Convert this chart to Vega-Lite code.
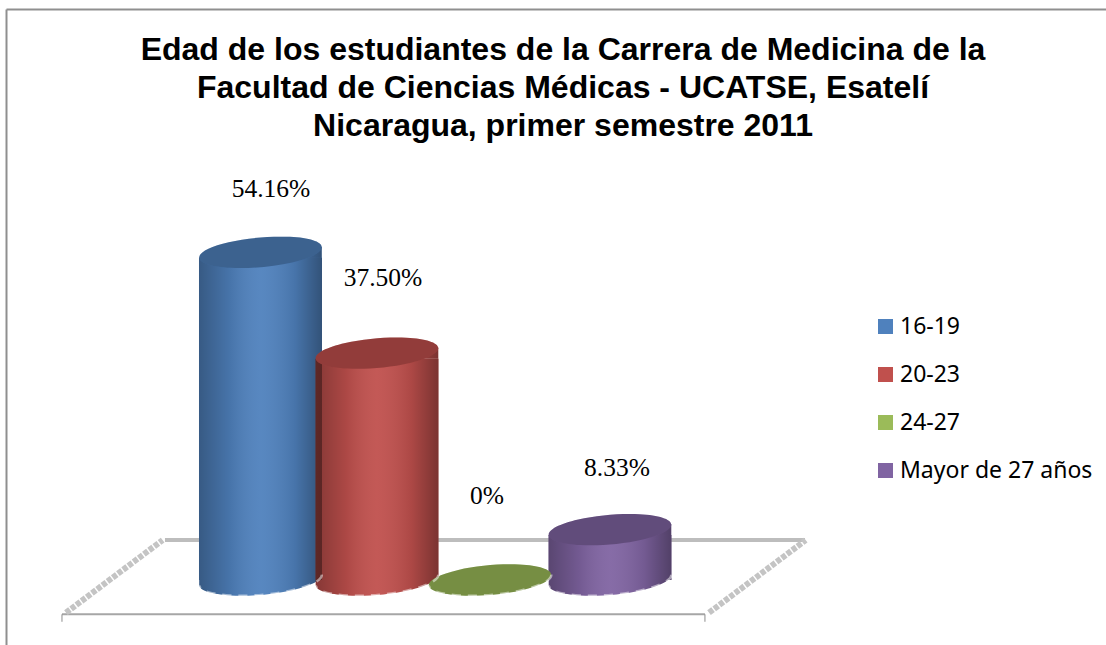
{
"$schema":"https://vega.github.io/schema/vega-lite/v6.json",
"width":1100,"height":636,
"autosize":{"type":"none"},
"padding":{"left":6,"top":9,"right":0,"bottom":0},
"background":"white",
"view":{"stroke":null},
"title":{"text":["Edad de los estudiantes de la Carrera de Medicina de la","Facultad de Ciencias Médicas - UCATSE, Esatelí","Nicaragua, primer semestre 2011"],"font":"Liberation Sans","fontSize":32,"fontWeight":"bold","color":"black","lineHeight":38,"anchor":"start","align":"center","baseline":"top","frame":"group","offset":0,"dx":557,"dy":134},
"datasets":{
"ages":[
{"age":"16-19","pos":1,"pct":54.16,"label":"54.16%"},
{"age":"20-23","pos":2,"pct":37.5,"label":"37.50%"},
{"age":"24-27","pos":2.97,"pct":0,"label":"0%"},
{"age":"Mayor de 27 años","pos":4,"pct":8.33,"label":"8.33%"}],
"floor":[
{"edge":"back","pos":0.18,"pct":6.6,"pos2":5.674,"pct2":6.6},
{"edge":"front","pos":-0.704,"pct":-5.67,"pos2":4.815,"pct2":-5.67},
{"edge":"tick","pos":-0.704,"pct":-5.67,"pos2":-0.704,"pct2":-6.9},
{"edge":"tick","pos":4.815,"pct":-5.67,"pos2":4.815,"pct2":-6.9},
{"edge":"side","pos":-0.67,"pct":-5.4,"pos2":0.16,"pct2":6.6},
{"edge":"side","pos":4.85,"pct":-5.4,"pos2":5.68,"pct2":6.6}]
},
"encoding":{
"x":{"field":"pos","type":"quantitative","scale":{"domain":[-1.1845,8.2575],"nice":false,"zero":false,"padding":0},"axis":{"orient":"top","title":null,"labels":false,"ticks":false,"grid":false,"domain":true,"domainColor":"#8f8f8f","domainWidth":2}},
"y":{"field":"pct","type":"quantitative","stack":null,"scale":{"domain":[-10.74,94.38],"nice":false,"zero":false,"padding":0},"axis":{"orient":"left","title":null,"labels":false,"ticks":false,"grid":false,"domain":true,"domainColor":"#8f8f8f","domainWidth":2}}
},
"layer":[
{"data":{"name":"floor"},"transform":[{"filter":"datum.edge==='back'"}],"mark":{"type":"rule","stroke":"#bdbdbd","strokeWidth":4},"encoding":{"x2":{"field":"pos2"},"y2":{"field":"pct2"}}},
{"data":{"name":"floor"},"transform":[{"filter":"datum.edge==='front'"}],"mark":{"type":"rule","stroke":"#a6a6a6","strokeWidth":2},"encoding":{"x2":{"field":"pos2"},"y2":{"field":"pct2"}}},
{"data":{"name":"floor"},"transform":[{"filter":"datum.edge==='tick'"}],"mark":{"type":"rule","stroke":"#8c8c8c","strokeWidth":1},"encoding":{"x2":{"field":"pos2"},"y2":{"field":"pct2"}}},
{"data":{"name":"floor"},"transform":[{"filter":"datum.edge==='side'"}],"mark":{"type":"rule","stroke":"#c4c4c4","strokeWidth":6,"strokeDash":[5,1.5]},"encoding":{"x2":{"field":"pos2"},"y2":{"field":"pct2"}}},
{"data":{"name":"ages"},"transform":[{"filter":"datum.pct>0"}],"mark":{"type":"point","filled":true,"opacity":1,"size":15129,"shape":"M-0.9962,-0.09L0.9962,-0.09L0.9962,-0.087A1,0.24,-5,1,1,-0.9962,0.087Z"},"encoding":{"y":{"datum":0},
"color":{"field":"age","type":"nominal","scale":{"domain":["16-19","20-23","24-27","Mayor de 27 años"],"range":["#4f81bd","#c0504d","#9bbb59","#8064a2"]},
"legend":{"title":null,"orient":"none","legendX":868,"legendY":306,"padding":0,"symbolType":"square","symbolSize":225,"symbolStrokeWidth":0,"symbolOpacity":1,"labelFont":"Noto Sans","labelFontSize":23,"labelColor":"black","labelOffset":3,"rowPadding":24,"labelLimit":300}}}},
{"data":{"name":"ages"},"transform":[{"filter":"datum.pct>0"}],"mark":{"type":"point","filled":true,"size":15129,"opacity":1,"shape":"M-0.9962,-0.09L0.9962,-0.09L0.9962,-0.087A1,0.24,-5,1,1,-0.9962,0.087Z","fill":{"gradient":"linear","x1":0,"y1":0,"x2":1,"y2":0,"stops":[{"offset":0,"color":"rgba(0,0,0,0.3)"},{"offset":0.25,"color":"rgba(0,0,0,0.1)"},{"offset":0.5,"color":"rgba(255,255,255,0.05)"},{"offset":0.78,"color":"rgba(0,0,0,0.1)"},{"offset":1,"color":"rgba(0,0,0,0.36)"}]}},"encoding":{"y":{"datum":0}}},
{"data":{"name":"ages"},"transform":[{"filter":"datum.pct>0"}],"mark":{"type":"point","filled":true,"opacity":1,"size":15129,"shape":"M-0.9962,0.087L0.9962,-0.087L0.9962,0.09L-0.9962,0.09Z"},"encoding":{"color":{"field":"age","type":"nominal"}}},
{"data":{"name":"ages"},"transform":[{"filter":"datum.pct>0"}],"mark":{"type":"point","filled":true,"size":15129,"opacity":1,"shape":"M-0.9962,0.087L0.9962,-0.087L0.9962,0.09L-0.9962,0.09Z","fill":{"gradient":"linear","x1":0,"y1":0,"x2":1,"y2":0,"stops":[{"offset":0,"color":"rgba(0,0,0,0.3)"},{"offset":0.25,"color":"rgba(0,0,0,0.1)"},{"offset":0.5,"color":"rgba(255,255,255,0.05)"},{"offset":0.78,"color":"rgba(0,0,0,0.1)"},{"offset":1,"color":"rgba(0,0,0,0.36)"}]}}},
{"data":{"name":"ages"},"transform":[{"filter":"datum.pct>0"}],"mark":{"type":"bar","orient":"vertical","size":123,"yOffset":5.5,"y2Offset":-5.5},"encoding":{"color":{"field":"age","type":"nominal"}}},
{"data":{"name":"ages"},"transform":[{"filter":"datum.pct>0"}],"mark":{"type":"bar","orient":"vertical","size":123,"yOffset":5.5,"y2Offset":-5.5,"fill":{"gradient":"linear","x1":0,"y1":0,"x2":1,"y2":0,"stops":[{"offset":0,"color":"rgba(0,0,0,0.3)"},{"offset":0.25,"color":"rgba(0,0,0,0.1)"},{"offset":0.5,"color":"rgba(255,255,255,0.05)"},{"offset":0.78,"color":"rgba(0,0,0,0.1)"},{"offset":1,"color":"rgba(0,0,0,0.36)"}]}}},
{"data":{"name":"ages"},"mark":{"type":"point","filled":true,"opacity":1,"size":15129,"shape":"M-0.9962,0.087A1,0.24,-5,1,1,0.9962,-0.087A1,0.24,-5,1,1,-0.9962,0.087Z"},"encoding":{"color":{"field":"age","type":"nominal"}}},
{"data":{"name":"ages"},"mark":{"type":"point","filled":true,"size":15129,"shape":"M-0.9962,0.087A1,0.24,-5,1,1,0.9962,-0.087A1,0.24,-5,1,1,-0.9962,0.087Z","fill":"black","opacity":0.24}},
{"data":{"name":"ages"},"mark":{"type":"point","filled":false,"size":15129,"opacity":1,"shape":"M0.9962,-0.087A1,0.24,-5,1,1,-0.9962,0.087","stroke":"white","strokeOpacity":0.5,"strokeWidth":2.5,"strokeDash":[9,7]},"encoding":{"y":{"datum":0}}},
{"data":{"name":"ages"},"transform":[{"filter":"datum.pos===1"}],"mark":{"type":"text","font":"Liberation Serif","fontSize":25.5,"color":"black","dx":10.5,"dy":-63},"encoding":{"text":{"field":"label"}}},
{"data":{"name":"ages"},"transform":[{"filter":"datum.pos===2"}],"mark":{"type":"text","font":"Liberation Serif","fontSize":25.5,"color":"black","dx":6,"dy":-75},"encoding":{"text":{"field":"label"}}},
{"data":{"name":"ages"},"transform":[{"filter":"datum.pos===2.97"}],"mark":{"type":"text","font":"Liberation Serif","fontSize":25.5,"color":"black","dx":-3,"dy":-84},"encoding":{"text":{"field":"label"}}},
{"data":{"name":"ages"},"transform":[{"filter":"datum.pos===4"}],"mark":{"type":"text","font":"Liberation Serif","fontSize":25.5,"color":"black","dx":7,"dy":-62},"encoding":{"text":{"field":"label"}}}
]
}
